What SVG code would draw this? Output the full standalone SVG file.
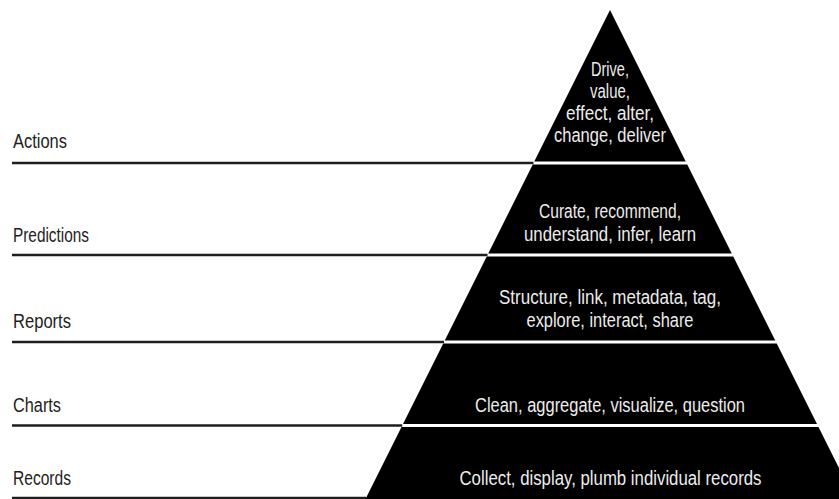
<svg xmlns="http://www.w3.org/2000/svg" width="839" height="499" viewBox="0 0 839 499">
  <style>
    .tier { fill: #000; }
    .label { font-family: "Liberation Sans", Arial, sans-serif; font-size: 19.5px; fill: #1e1e1e; }
    .verbs { font-family: "Liberation Sans", Arial, sans-serif; font-size: 19.5px; fill: #ececec; text-anchor: middle; }
    .rule { stroke: #1e1e1e; stroke-width: 2.5; fill: none; }
  </style>
  <rect width="839" height="499" fill="#fff"/>

  <!-- horizontal rules running from the labels to the pyramid -->
  <g id="rules">
    <line class="rule" x1="12" y1="163" x2="533.5" y2="163"/>
    <line class="rule" x1="12" y1="255" x2="487.5" y2="255"/>
    <line class="rule" x1="12" y1="342" x2="444" y2="342"/>
    <line class="rule" x1="12" y1="425.5" x2="402.25" y2="425.5"/>
    <line class="rule" x1="12" y1="498" x2="366" y2="498"/>
  </g>

  <g id="actions">
    <polygon class="tier" points="610,10 685.75,161.5 534.25,161.5"/>
    <text class="label" x="13" y="148" textLength="54" lengthAdjust="spacingAndGlyphs">Actions</text>
    <text class="verbs" x="610" y="75.7" textLength="38" lengthAdjust="spacingAndGlyphs">Drive,</text>
    <text class="verbs" x="610" y="97.7" textLength="40" lengthAdjust="spacingAndGlyphs">value,</text>
    <text class="verbs" x="610" y="120" textLength="88" lengthAdjust="spacingAndGlyphs">effect, alter,</text>
    <text class="verbs" x="610" y="142.3" textLength="112" lengthAdjust="spacingAndGlyphs">change, deliver</text>
  </g>

  <g id="predictions">
    <polygon class="tier" points="532.75,164.5 687.25,164.5 731.75,253.5 488.25,253.5"/>
    <text class="label" x="13" y="241.5" textLength="76" lengthAdjust="spacingAndGlyphs">Predictions</text>
    <text class="verbs" x="610" y="217.5" textLength="142" lengthAdjust="spacingAndGlyphs">Curate, recommend,</text>
    <text class="verbs" x="610" y="240.5" textLength="172" lengthAdjust="spacingAndGlyphs">understand, infer, learn</text>
  </g>

  <g id="reports">
    <polygon class="tier" points="486.75,256.5 733.25,256.5 775.25,340.5 444.75,340.5"/>
    <text class="label" x="13" y="328" textLength="58" lengthAdjust="spacingAndGlyphs">Reports</text>
    <text class="verbs" x="610" y="303.5" textLength="222" lengthAdjust="spacingAndGlyphs">Structure, link, metadata, tag,</text>
    <text class="verbs" x="610" y="326.7" textLength="167" lengthAdjust="spacingAndGlyphs">explore, interact, share</text>
  </g>

  <g id="charts">
    <polygon class="tier" points="443.25,343.5 776.75,343.5 817,424 403,424"/>
    <text class="label" x="13" y="411.5" textLength="48" lengthAdjust="spacingAndGlyphs">Charts</text>
    <text class="verbs" x="610" y="411.7" textLength="270" lengthAdjust="spacingAndGlyphs">Clean, aggregate, visualize, question</text>
  </g>

  <g id="records">
    <polygon class="tier" points="401.5,427 818.5,427 857.5,505 362.5,505"/>
    <text class="label" x="13" y="485" textLength="58" lengthAdjust="spacingAndGlyphs">Records</text>
    <text class="verbs" x="610.5" y="485" textLength="302" lengthAdjust="spacingAndGlyphs">Collect, display, plumb individual records</text>
  </g>
</svg>
